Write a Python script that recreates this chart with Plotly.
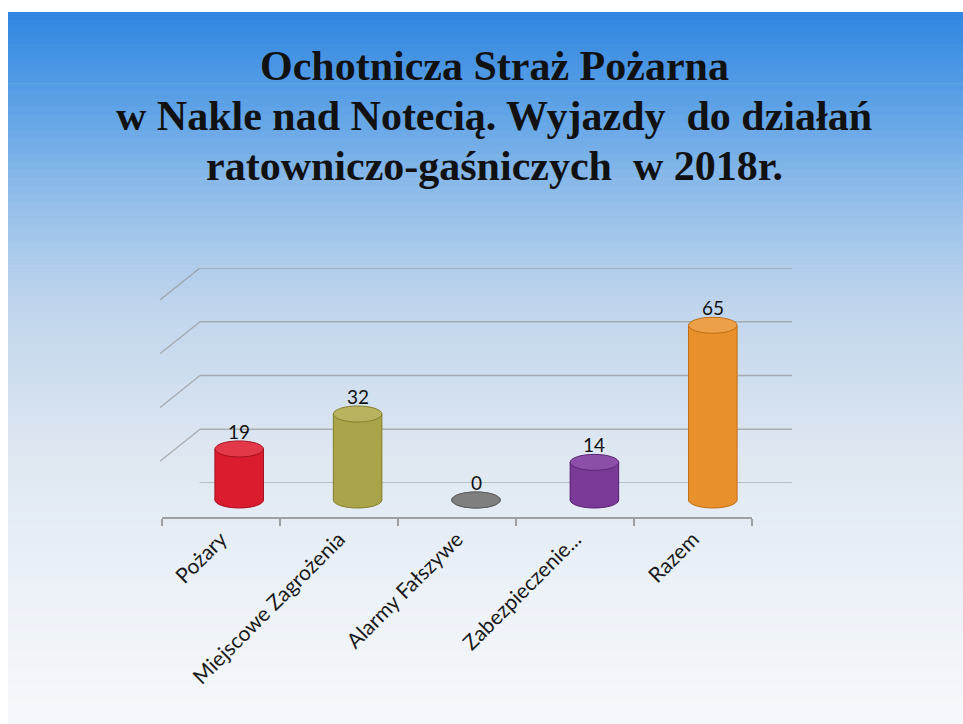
import plotly.graph_objects as go

# ---- data ----
categories = ["Pożary", "Miejscowe Zagrożenia", "Alarmy Fałszywe", "Zabezpieczenie...", "Razem"]
values = [19, 32, 0, 14, 65]
bar_colors = ["#d91c2e", "#a9a34a", "#7f7f7f", "#7c3a98", "#e8902c"]
cap_colors = ["#e3384a", "#b8b35f", "#8f8f8f", "#8d4eaa", "#eea048"]
edge_colors = ["#a8101e", "#85802f", "#5e5e5e", "#5a2473", "#c06e14"]
grid_values = [0, 20, 40, 60, 80]
title_lines = ["Ochotnicza Straż Pożarna",
               "w Nakle nad Notecią. Wyjazdy  do działań",
               "ratowniczo-gaśniczych  w 2018r."]

W, H = 963, 724


def px_x(p):
    return p / W


def px_y(p):
    return 1 - p / H


fig = go.Figure()

# ---- slide background gradient ----
stops = [(12, (48, 134, 224)), (100, (90, 160, 230)), (200, (146, 190, 234)),
         (300, (190, 212, 236)), (450, (222, 231, 241)), (600, (237, 242, 248)),
         (724, (245, 248, 251))]


def col_at(y):
    for (y0, c0), (y1, c1) in zip(stops[:-1], stops[1:]):
        if y0 <= y <= y1:
            t = (y - y0) / (y1 - y0)
            return "rgb(%d,%d,%d)" % tuple(round(a + (b - a) * t) for a, b in zip(c0, c1))
    return "rgb(%d,%d,%d)" % stops[-1][1]


shapes = []
n_bands = 90
top, bottom = 12, 724
for k in range(n_bands):
    ya = top + (bottom - top) * k / n_bands
    yb = top + (bottom - top) * (k + 1) / n_bands
    shapes.append(dict(type="rect", xref="paper", yref="paper",
                       x0=px_x(8), x1=1, y0=max(0, px_y(yb + 0.6)), y1=px_y(ya),
                       fillcolor=col_at((ya + yb) / 2), line=dict(width=0), layer="below"))

# ---- back wall gridlines with left side diagonals ----
grid_col = "rgba(145,145,145,0.65)"
for g in grid_values:
    shapes.append(dict(type="line", xref="x domain", yref="y", x0=0, x1=1, y0=g, y1=g,
                       line=dict(color=grid_col, width=1.5), layer="below"))
    shapes.append(dict(type="line", xref="x domain", xsizemode="pixel", xanchor=0,
                       x0=-40, x1=0, yref="y", ysizemode="pixel", yanchor=g, y0=-32, y1=0,
                       line=dict(color=grid_col, width=1.5), layer="below"))
# right floor diagonal
shapes.append(dict(type="line", xref="x domain", xsizemode="pixel", xanchor=1,
                   x0=-40, x1=0, yref="y", ysizemode="pixel", yanchor=0, y0=-32, y1=0,
                   line=dict(color=grid_col, width=1.5), layer="below"))

# ---- cylinder bodies and caps ----
half_w = 0.205
for i, v in enumerate(values):
    # rounded bottom
    shapes.append(dict(type="circle", xref="x2", yref="y2", x0=i - half_w, x1=i + half_w,
                       ysizemode="pixel", yanchor=0, y0=-8, y1=8,
                       fillcolor=bar_colors[i], line=dict(color=edge_colors[i], width=1),
                       layer="above"))
    if v > 0:
        shapes.append(dict(type="rect", xref="x2", yref="y2", x0=i - half_w, x1=i + half_w,
                           y0=0, y1=v, fillcolor=bar_colors[i],
                           line=dict(width=0), layer="above"))
        shapes.append(dict(type="line", xref="x2", yref="y2", x0=i - half_w, x1=i - half_w,
                           y0=0, y1=v, line=dict(color=edge_colors[i], width=1), layer="above"))
        shapes.append(dict(type="line", xref="x2", yref="y2", x0=i + half_w, x1=i + half_w,
                           y0=0, y1=v, line=dict(color=edge_colors[i], width=1), layer="above"))
    shapes.append(dict(type="circle", xref="x2", yref="y2", x0=i - half_w, x1=i + half_w,
                       ysizemode="pixel", yanchor=v, y0=-8, y1=8,
                       fillcolor=cap_colors[i] if v > 0 else bar_colors[i],
                       line=dict(color=edge_colors[i], width=1),
                       layer="above"))

# ---- bars (mid depth plane) ----
fig.add_trace(go.Bar(x=categories, y=values, xaxis="x2", yaxis="y2",
                     width=2 * half_w, marker=dict(color=bar_colors, line=dict(width=0)),
                     hoverinfo="x+y", showlegend=False))

# invisible traces for the back wall axes and the front category axis
fig.add_trace(go.Scatter(x=categories, y=[0] * len(categories), xaxis="x", yaxis="y",
                         mode="markers", marker=dict(opacity=0), hoverinfo="skip",
                         showlegend=False))
fig.add_trace(go.Scatter(x=categories, y=[0] * len(categories), xaxis="x3", yaxis="y3",
                         mode="markers", marker=dict(opacity=0), hoverinfo="skip",
                         showlegend=False))

annotations = []
for i, v in enumerate(values):
    annotations.append(dict(x=i, y=v, xref="x2", yref="y2", text=str(v), showarrow=False,
                            yanchor="bottom", yshift=4,
                            font=dict(family="Lato, Open Sans, sans-serif", size=19,
                                      color="#111111")))

title_centers = [66, 116, 166]
for t, yc in zip(title_lines, title_centers):
    annotations.append(dict(x=px_x(494), y=px_y(yc), xref="paper", yref="paper",
                            text="<b>%s</b>" % t, showarrow=False,
                            xanchor="center", yanchor="middle",
                            font=dict(family="Liberation Serif, Times New Roman, serif",
                                      size=42, color="#111111")))

px_per_unit = (500 - 285) / 80.0
y2_min = -6

fig.update_layout(
    width=W, height=H,
    margin=dict(l=0, r=0, t=0, b=0),
    paper_bgcolor="white",
    plot_bgcolor="rgba(0,0,0,0)",
    showlegend=False,
    shapes=shapes,
    annotations=annotations,
    xaxis=dict(domain=[px_x(200), px_x(792)], range=[-0.5, 4.5], visible=False,
               anchor="y"),
    yaxis=dict(domain=[px_y(483), px_y(268)], range=[0, 80], visible=False,
               anchor="x", showgrid=False),
    xaxis2=dict(domain=[px_x(180), px_x(772)], range=[-0.5, 4.5], visible=False,
                anchor="y2", type="category"),
    yaxis2=dict(domain=[px_y(500 - y2_min * px_per_unit), px_y(285)], range=[y2_min, 80],
                visible=False, anchor="x2"),
    xaxis3=dict(domain=[px_x(162), px_x(752)], range=[-0.5, 4.5], anchor="y3",
                type="category", showline=True, linecolor="#a0a0a0", linewidth=1.5,
                ticks="outside", tickson="boundaries", ticklen=7, tickcolor="#a0a0a0",
                tickwidth=1.5, tickangle=-45, showgrid=False, zeroline=False,
                tickfont=dict(family="Lato, Open Sans, sans-serif", size=21,
                              color="#1a1a1a")),
    yaxis3=dict(domain=[px_y(517), px_y(300)], range=[0, 1], visible=False,
                anchor="x3"),
)

fig.write_html("out.html", config={"displayModeBar": False},
               post_script="document.body.style.margin='0';")
